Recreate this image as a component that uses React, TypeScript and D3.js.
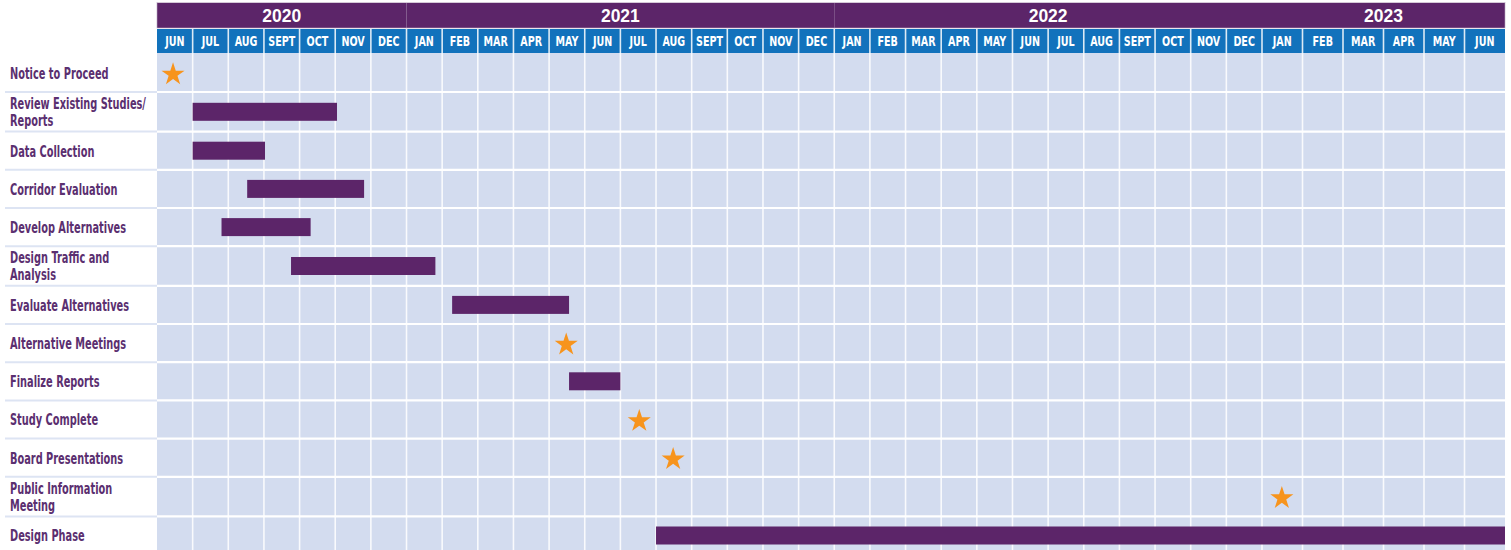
import * as d3 from "d3";

// months counted from JUN 2020 (index 0)
const years = ["2020", "2021", "2022", "2023"];
const yearMonthCounts = [7, 12, 12, 6];
const monthLabels = [
  "JUN", "JUL", "AUG", "SEPT", "OCT", "NOV", "DEC",
  "JAN", "FEB", "MAR", "APR", "MAY", "JUN", "JUL", "AUG", "SEPT", "OCT", "NOV", "DEC",
  "JAN", "FEB", "MAR", "APR", "MAY", "JUN", "JUL", "AUG", "SEPT", "OCT", "NOV", "DEC",
  "JAN", "FEB", "MAR", "APR", "MAY", "JUN",
];

const taskLabels = [
  "Notice to Proceed",
  "Review Existing Studies/\nReports",
  "Data Collection",
  "Corridor Evaluation",
  "Develop Alternatives",
  "Design Traffic and\nAnalysis",
  "Evaluate Alternatives",
  "Alternative Meetings",
  "Finalize Reports",
  "Study Complete",
  "Board Presentations",
  "Public Information\nMeeting",
  "Design Phase",
];
// bar start / end in months from JUN 2020; null = no bar
const taskStart = [null, 1.0, 1.0, 2.53, 1.81, 3.76, 8.28, null, 11.56, null, null, null, 14.0];
const taskEnd = [null, 5.05, 3.03, 5.81, 4.31, 7.81, 11.56, null, 13.0, null, null, null, 37];
// milestone (star) position in months; null = none
const milestones = [0.45, null, null, null, null, null, null, 11.48, null, 13.53, 14.48, 31.49, null];

const W = 1511;
const H = 550;
const gridLeft = 157;
const gridRight = 1505;
const yearTop = 3;
const yearBottom = 28;
const monthTop = 29;
const gridTop = 53;

const purple = "#5c2569";
const blue = "#1272bc";
const cellFill = "#d3dcef";
const labelColor = "#5b2f70";
const starColor = "#f7941d";
const font = "'DejaVu Sans', sans-serif";
// no condensed face installed, so squeeze horizontally
const monthSqueeze = 0.71;
const labelSqueeze = 0.655;

export default function App() {
  const totalMonths = monthLabels.length;
  // 2023 columns are drawn wider than the earlier ones
  const x = d3.scaleLinear().domain([0, 31, totalMonths]).range([gridLeft, 1262, gridRight]);

  const lines = taskLabels.map((l) => l.split("\n"));
  const heights = lines.map((l) => (l.length > 1 ? 39.6 : 38.2));
  const rowTops = [gridTop + 0.8];
  heights.forEach((h, i) => rowTops.push(rowTops[i] + h));

  const yearStarts = d3.cumsum([0, ...yearMonthCounts]);
  const star = d3.symbol(d3.symbolStar).size(165)();

  return (
    <>
      <style>{`body{margin:0}`}</style>
      <svg width={W} height={H} style={{ display: "block", background: "#fff" }}>
        {/* year header */}
        {years.map((yr, i) => {
          const x0 = x(yearStarts[i]);
          const x1 = x(yearStarts[i + 1]);
          return (
            <g key={yr}>
              <rect x={x0} y={yearTop} width={x1 - x0} height={yearBottom - yearTop} fill={purple} />
              <text
                x={(x0 + x1) / 2}
                y={(yearTop + yearBottom) / 2 + 6.5}
                textAnchor="middle"
                fill="#fff"
                fontFamily="'Liberation Sans', Arial, sans-serif"
                fontWeight="bold"
                fontSize={17.5}
              >
                {yr}
              </text>
            </g>
          );
        })}
        {yearStarts.slice(1, -1).map((m, i) => (
          <line key={i} x1={x(m)} x2={x(m)} y1={yearTop} y2={yearBottom} stroke="#fff" strokeWidth={1.2} />
        ))}
        <rect x={gridLeft} y={yearTop - 0.5} width={gridRight - gridLeft} height={yearBottom - yearTop + 0.5} fill="none" stroke="#b9a6bf" strokeWidth={0.6} />

        {/* month header */}
        <rect x={gridLeft} y={monthTop} width={gridRight - gridLeft} height={gridTop - monthTop} fill={blue} />
        <g transform={`scale(${monthSqueeze},1)`}>
          {monthLabels.map((m, i) => (
            <text
              key={i}
              x={(x(i) + x(i + 1)) / 2 / monthSqueeze}
              y={(monthTop + gridTop) / 2 + 5}
              textAnchor="middle"
              fill="#fff"
              fontFamily={font}
              fontWeight="bold"
              fontSize={13.5}
            >
              {m}
            </text>
          ))}
        </g>

        {/* grid */}
        <rect x={gridLeft} y={gridTop} width={gridRight - gridLeft} height={H - gridTop} fill={cellFill} />
        {d3.range(1, totalMonths).map((i) => (
          <line key={i} x1={x(i)} x2={x(i)} y1={monthTop} y2={H} stroke="#fff" strokeWidth={1.6} strokeOpacity={0.85} />
        ))}
        {rowTops.slice(0, -1).map((y, i) => (
          <g key={i}>
            {i > 0 && <line x1={gridLeft} x2={gridRight} y1={y} y2={y} stroke="#fff" strokeWidth={2.2} />}
            {i > 0 && <line x1={5} x2={gridLeft} y1={y} y2={y} stroke="#dde4f3" strokeWidth={2} />}
          </g>
        ))}

        {/* labels */}
        <g transform={`scale(${labelSqueeze},1)`}>
          {lines.map((ls, i) => {
            const cy = (rowTops[i] + rowTops[i + 1]) / 2;
            const y0 = cy - ((ls.length - 1) * 17) / 2 + 6;
            return (
              <text key={i} fill={labelColor} fontFamily={font} fontWeight="bold" fontSize={15}>
                {ls.map((t, j) => (
                  <tspan key={j} x={10 / labelSqueeze} y={y0 + j * 17}>
                    {t}
                  </tspan>
                ))}
              </text>
            );
          })}
        </g>

        {/* bars */}
        {taskStart.map((s, i) => {
          const e = taskEnd[i];
          if (s == null || e == null) return null;
          const cy = (rowTops[i] + rowTops[i + 1]) / 2;
          return <rect key={i} x={x(s)} y={cy - 9} width={x(e) - x(s)} height={18} fill={purple} />;
        })}

        {/* milestones */}
        {milestones.map((m, i) => {
          if (m == null) return null;
          const cy = (rowTops[i] + rowTops[i + 1]) / 2 + 1.5;
          return <path key={i} d={star ?? ""} transform={`translate(${x(m)},${cy})`} fill={starColor} />;
        })}
      </svg>
    </>
  );
}
